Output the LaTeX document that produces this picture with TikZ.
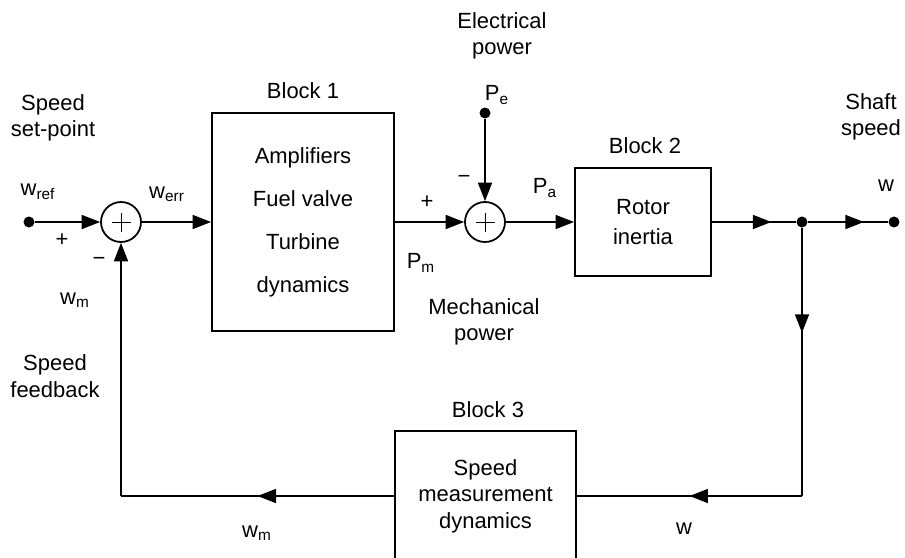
\documentclass[tikz,border=0pt]{standalone}
\usepackage{fontspec}
\setmainfont{Liberation Sans}
\usetikzlibrary{arrows.meta, decorations.markings}

\begin{document}
\begin{tikzpicture}[
  font=\fontsize{12.5}{15}\selectfont,
  line width=1pt,
  blk/.style={draw, line width=1.1pt, align=center, inner sep=0pt},
  sumj/.style={draw, circle, minimum size=0.8cm, inner sep=0pt, path picture={
      \draw[line width=0.5pt] ([xshift=-0.19cm]path picture bounding box.center) -- ([xshift=0.19cm]path picture bounding box.center);
      \draw[line width=0.5pt] ([yshift=-0.19cm]path picture bounding box.center) -- ([yshift=0.19cm]path picture bounding box.center);}},
  jdot/.style={circle, fill, inner sep=0pt, minimum size=0.22cm},
  lbl/.style={align=center, inner sep=0pt},
  arrowend/.style={-{Triangle[length=0.37cm, width=0.28cm]}},
  midtip/.style={postaction={decorate}, decoration={markings,
      mark=at position #1 with {\arrow{Triangle[length=0.37cm, width=0.28cm]}}}}
]
  \useasboundingbox (0,0) rectangle (18.1,-11.14);

  \node[jdot] (ref) at (0.58,-4.44) {};
  \node[sumj] (s1) at (2.42,-4.44) {};
  \node[blk, minimum width=3.64cm, minimum height=4.36cm] (b1) at (6.06,-4.44)
    {Amplifiers\\[9.5pt]Fuel valve\\[9.5pt]Turbine\\[9.5pt]dynamics};
  \node[sumj] (s2) at (9.70,-4.44) {};
  \node[jdot] (pe) at (9.70,-2.26) {};
  \node[blk, minimum width=2.72cm, minimum height=2.16cm] (b2) at (12.86,-4.44) {Rotor\\[2pt]inertia};
  \node[jdot] (br) at (16.04,-4.44) {};
  \node[jdot] (out) at (17.88,-4.44) {};
  \coordinate (rc) at (16.04,-9.92);
  \node[blk, minimum width=3.62cm, minimum height=2.6cm] (b3) at (9.71,-9.92) {Speed\\measurement\\dynamics};
  \coordinate (lc) at (2.42,-9.92);

  \draw[arrowend] (ref) -- (s1);
  \draw[arrowend] (s1) -- (b1);
  \draw[arrowend] (b1) -- (s2);
  \draw[arrowend] (pe) -- (s2);
  \draw[arrowend] (s2) -- (b2);
  \draw[midtip=0.71] (b2) -- (br);
  \draw[midtip=0.70] (br) -- (out);
  \draw[midtip=0.39] (br) -- (rc);
  \draw[midtip=0.5] (rc) -- (b3);
  \draw[midtip=0.5] (b3) -- (lc);
  \draw[arrowend] (lc) -- (s1);

  \node[lbl] (setpt) at (1.06,-2.35) {Speed\\set-point};
  \node (wref) at (0.76,-3.84) {w\textsubscript{ref}};
  \node (plus1) at (1.24,-4.80) {+};
  \node (minus1) at (1.98,-5.22) {\textminus};
  \node (werr) at (3.34,-3.88) {w\textsubscript{err}};
  \node (wm1) at (1.5,-6.0) {w\textsubscript{m}};
  \node[lbl] (fb) at (1.1,-7.52) {Speed\\feedback};
  \node (t1) at (6.06,-1.82) {Block 1};
  \node[lbl] (elec) at (10.04,-0.72) {Electrical\\power};
  \node (pelbl) at (9.94,-1.9) {P\textsubscript{e}};
  \node (minus2) at (9.28,-3.58) {\textminus};
  \node (plus2) at (8.54,-4.04) {+};
  \node (palbl) at (10.9,-3.76) {P\textsubscript{a}};
  \node (pmlbl) at (8.42,-5.26) {P\textsubscript{m}};
  \node[lbl] (mech) at (9.68,-6.44) {Mechanical\\power};
  \node (t2) at (12.9,-2.92) {Block 2};
  \node[lbl] (shaft) at (17.42,-2.34) {Shaft\\speed};
  \node (wout) at (17.72,-3.72) {w};
  \node (t3) at (9.76,-8.2) {Block 3};
  \node (wbot) at (13.68,-10.58) {w};
  \node (wm2) at (5.14,-10.66) {w\textsubscript{m}};
\end{tikzpicture}
\end{document}
